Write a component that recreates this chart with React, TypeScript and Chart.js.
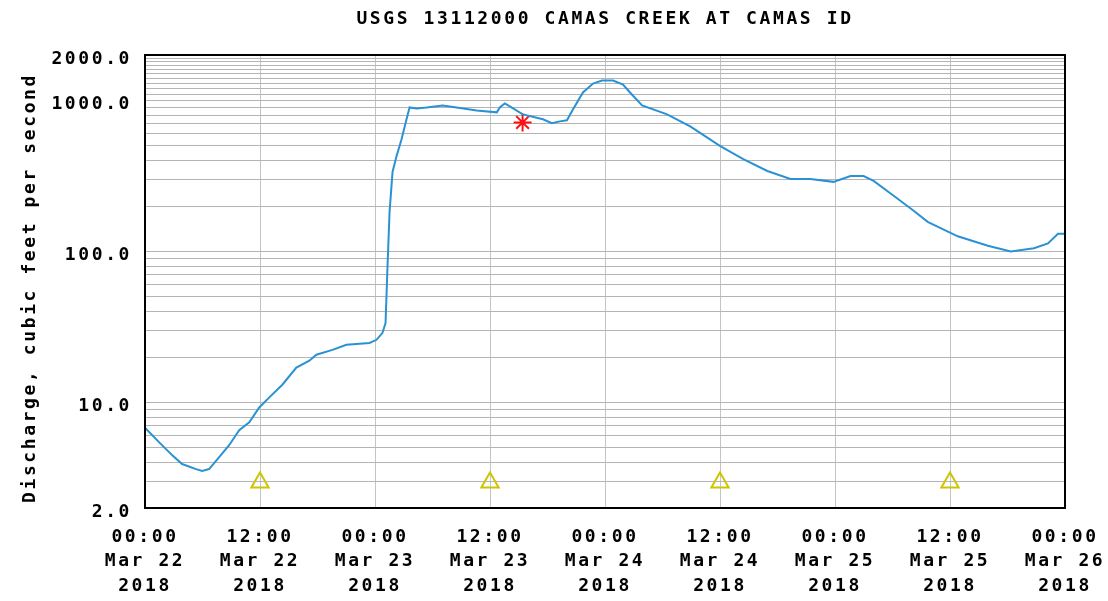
import React, { useEffect, useRef } from 'react';
import { Chart, registerables } from 'chart.js';

Chart.register(...registerables);

const TITLE = 'USGS 13112000 CAMAS CREEK AT CAMAS ID';
const Y_TITLE = 'Discharge, cubic feet per second';
const FONT_FAMILY = '"DejaVu Sans Mono", monospace';

// hours since 2018-03-22 00:00
const hoursSinceStart = [
  0, 1.46, 2.82, 3.87, 5.33, 5.96, 6.69, 7.74, 8.78, 9.83, 10.88, 11.92, 12.97, 14.33, 15.79,
  17.15, 17.88, 19.56, 21.02, 23.42, 24.16, 24.78, 25.1, 25.31, 25.52, 25.83, 26.25, 26.77,
  27.29, 27.61, 28.34, 29.39, 31.06, 32.52, 34.61, 36.71, 37.02, 37.54, 38.07, 39.42, 41.52,
  42.46, 43.29, 44.03, 44.65, 45.7, 46.75, 47.69, 48.84, 49.88, 50.61, 51.87, 54.48, 56.89,
  60.03, 62.43, 64.94, 67.35, 69.44, 71.84, 73.62, 74.98, 76.03, 78.12, 80.21, 81.67, 84.81,
  87.95, 90.35, 92.76, 94.22, 95.27, 96,
];
const dischargeCfs = [
  6.8, 5.46, 4.48, 3.91, 3.62, 3.52, 3.62, 4.35, 5.21, 6.54, 7.38, 9.27, 10.8, 13.1, 17.0,
  18.9, 20.7, 22.3, 24.1, 24.8, 26.0, 28.9, 33.6, 80.9, 183, 336, 428, 554,
  750, 899, 886, 899, 927, 899, 859, 834, 899, 956, 913, 809, 750,
  706, 727, 739, 872, 1129, 1294, 1354, 1354, 1274, 1129, 927, 809, 674,
  498, 409, 341, 302, 302, 289, 316, 316, 293, 234, 186, 157, 126,
  109, 100, 105, 113, 131, 131,
];

const tickHours = [0, 12, 24, 36, 48, 60, 72, 84, 96];
const tickTimes = ['00:00', '12:00', '00:00', '12:00', '00:00', '12:00', '00:00', '12:00', '00:00'];
const tickDays = ['Mar 22', 'Mar 22', 'Mar 23', 'Mar 23', 'Mar 24', 'Mar 24', 'Mar 25', 'Mar 25', 'Mar 26'];
const tickYears = ['2018', '2018', '2018', '2018', '2018', '2018', '2018', '2018', '2018'];

const yGridValues = [
  2, 3, 4, 5, 6, 7, 8, 9,
  10, 20, 30, 40, 50, 60, 70, 80, 90,
  100, 200, 300, 400, 500, 600, 700, 800, 900,
  1000, 1100, 1200, 1300, 1400, 1500, 1600, 1700, 1800, 1900, 2000,
];
const yLabeledValues = [2, 10, 100, 1000, 2000];

const triangleHours = [12, 36, 60, 84];
const triangleValues = [2.95, 2.95, 2.95, 2.95];
const starHours = [39.4];
const starValues = [715];

function setSpacing(ctx: any) {
  try {
    ctx.letterSpacing = '2.6px';
  } catch (e) {
    /* ignore */
  }
}

const textPlugin = {
  id: 'usgsText',
  beforeUpdate(chart: any) {
    setSpacing(chart.ctx);
  },
  beforeLayout(chart: any) {
    setSpacing(chart.ctx);
  },
  beforeDraw(chart: any) {
    setSpacing(chart.ctx);
  },
  afterDraw(chart: any) {
    const { ctx, chartArea } = chart;
    ctx.save();
    ctx.strokeStyle = '#000';
    ctx.lineWidth = 2;
    ctx.strokeRect(chartArea.left, chartArea.top, chartArea.right - chartArea.left, chartArea.bottom - chartArea.top);
    ctx.fillStyle = '#000';
    ctx.font = `bold 18px ${FONT_FAMILY}`;
    ctx.textAlign = 'center';
    ctx.textBaseline = 'middle';
    ctx.fillText(TITLE, (chartArea.left + chartArea.right) / 2, 19);
    ctx.translate(30, 288);
    ctx.rotate(-Math.PI / 2);
    ctx.fillText(Y_TITLE, 0, 0);
    ctx.restore();
  },
};

export default function App() {
  const canvasRef = useRef<HTMLCanvasElement | null>(null);

  useEffect(() => {
    const canvas = canvasRef.current;
    if (!canvas) return;
    const font = { family: FONT_FAMILY, size: 18, weight: 'bold' as const, lineHeight: 1.36 };
    const chart = new Chart(canvas, {
      type: 'line',
      data: {
        datasets: [
          {
            data: hoursSinceStart.map((h, i) => ({ x: h, y: dischargeCfs[i] })),
            borderColor: '#2a92d4',
            borderWidth: 2,
            pointRadius: 0,
            tension: 0,
            fill: false,
          },
          {
            data: triangleHours.map((h, i) => ({ x: h, y: triangleValues[i] })),
            showLine: false,
            pointStyle: 'triangle',
            pointRadius: 10,
            borderColor: '#cfc400',
            backgroundColor: 'rgba(255,255,255,0)',
            borderWidth: 2,
          },
          {
            data: starHours.map((h, i) => ({ x: h, y: starValues[i] })),
            showLine: false,
            pointStyle: 'star',
            pointRadius: 9,
            borderColor: '#ff1010',
            backgroundColor: '#ff1010',
            borderWidth: 2,
          },
        ],
      },
      options: {
        responsive: false,
        animation: false,
        events: [],
        layout: { padding: { top: 55, right: 43, left: 0, bottom: 0 } },
        plugins: {
          legend: { display: false },
          tooltip: { enabled: false },
          title: { display: false },
        },
        scales: {
          x: {
            type: 'linear',
            min: 0,
            max: 96,
            afterBuildTicks: (scale: any) => {
              scale.ticks = tickHours.map((v) => ({ value: v }));
            },
            afterFit: (scale: any) => {
              scale.height = 93;
              scale.paddingLeft = 0;
              scale.paddingRight = 0;
            },
            ticks: {
              autoSkip: false,
              maxRotation: 0,
              minRotation: 0,
              padding: 17,
              color: '#000',
              font,
              callback: (v: any) => {
                const k = tickHours.indexOf(Number(v));
                return k < 0 ? '' : [tickTimes[k], tickDays[k], tickYears[k]];
              },
            },
            grid: {
              color: (c: any) =>
                c.tick && (c.tick.value === 0 || c.tick.value === 96) ? 'rgba(0,0,0,0)' : '#c4c4c4',
              drawTicks: false,
            },
            border: { display: false },
          },
          y: {
            type: 'logarithmic',
            min: 2,
            max: 2000,
            afterBuildTicks: (scale: any) => {
              scale.ticks = yGridValues.map((v) => ({ value: v }));
            },
            afterFit: (scale: any) => {
              scale.width = 145;
              scale.paddingTop = 0;
              scale.paddingBottom = 0;
            },
            ticks: {
              autoSkip: false,
              padding: 13,
              labelOffset: 4,
              color: '#000',
              font,
              callback: (v: any) => (yLabeledValues.includes(Number(v)) ? Number(v).toFixed(1) : ''),
            },
            grid: { color: '#b4b4b4', drawTicks: false },
            border: { display: false },
          },
        },
      },
      plugins: [textPlugin],
    } as any);
    return () => chart.destroy();
  }, []);

  return (
    <div style={{ position: 'absolute', left: 0, top: 0, width: 1108, height: 601, background: '#fff' }}>
      <canvas ref={canvasRef} width={1108} height={601} style={{ display: 'block' }} />
    </div>
  );
}
